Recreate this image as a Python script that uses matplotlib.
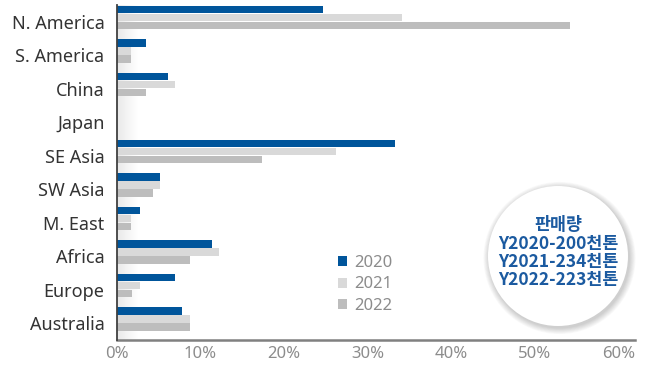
import numpy as np
import matplotlib
matplotlib.use("Agg")
import matplotlib.pyplot as plt
from matplotlib.patches import Patch, Circle

plt.rcParams['font.family'] = ['Noto Sans', 'Noto Sans CJK KR', 'DejaVu Sans']

# Regional sales share (%)
regions = ["N. America", "S. America", "China", "Japan", "SE Asia",
           "SW Asia", "M. East", "Africa", "Europe", "Australia"]
years = ["2020", "2021", "2022"]
share_2020 = [24.6, 3.5, 6.1, 0.0, 33.3, 5.2, 2.7, 11.4, 7.0, 7.8]
share_2021 = [34.1, 1.7, 6.9, 0.0, 26.2, 5.2, 1.7, 12.2, 2.7, 8.7]
share_2022 = [54.2, 1.7, 3.5, 0.0, 17.4, 4.3, 1.7, 8.7, 1.8, 8.7]
x_ticks = [0, 10, 20, 30, 40, 50, 60]
note_lines = ["판매량", "Y2020-200천톤", "Y2021-234천톤", "Y2022-223천톤"]

colors = ["#00559b", "#d9d9d9", "#bdbdbd"]

W, H = 656, 371
fig = plt.figure(figsize=(W / 100, H / 100), dpi=100)
ax = fig.add_axes([117 / W, 1 - 340 / H, (635 - 117) / W, (340 - 5) / H])

pos = np.arange(len(regions))
step = 0.239
bar_h = 0.22
for k, (vals, c) in enumerate(zip([share_2020, share_2021, share_2022], colors)):
    ax.barh(pos + (k - 1) * step, vals, height=bar_h, color=c,
            edgecolor="none", zorder=3)

ax.set_xlim(0, 62)
ax.set_ylim(9.63, -0.37)

# soft shading along the value axis origin
grad = np.linspace(0.86, 1.0, 64).reshape(1, -1)
grad = grad ** 0.6
ax.imshow(np.dstack([grad, grad, grad]), extent=[0, 0.04, 0, 1],
          transform=ax.transAxes, aspect="auto", zorder=1,
          interpolation="bilinear")

ax.set_yticks(pos + 0.13)
ax.set_yticklabels(regions, fontsize=13, color="#333333")
ax.set_xticks(x_ticks)
ax.set_xticklabels([f"{t}%" for t in x_ticks], fontsize=12, color="#8c8c8c")
ax.tick_params(axis="y", length=0, pad=9)
ax.tick_params(axis="x", length=0, pad=4)

for s in ["top", "right"]:
    ax.spines[s].set_visible(False)
ax.spines["left"].set_color("#404040")
ax.spines["left"].set_linewidth(1.3)
ax.spines["bottom"].set_color("#808080")
ax.spines["bottom"].set_linewidth(1.8)
ax.spines["left"].set_zorder(5)

handles = [Patch(facecolor=c, edgecolor="none") for c in colors]
ax.legend(handles, years, loc="upper left",
          bbox_to_anchor=(338 / W, 1 - 255 / H), bbox_transform=fig.transFigure,
          frameon=False, fontsize=12, labelcolor="#8c8c8c",
          handlelength=0.55, handleheight=0.55, handletextpad=0.4,
          labelspacing=0.33, borderpad=0, borderaxespad=0)

# sales volume note in a shaded circle
R = 80
cx, cy = 558, 256
nax = fig.add_axes([(cx - R) / W, 1 - (cy + R) / H, 2 * R / W, 2 * R / H])
nax.set_xlim(-R, R)
nax.set_ylim(-R, R)
nax.axis("off")
for i in range(8):
    r = 70.5 + i * 0.8
    nax.add_patch(Circle((1.5, -2), r, facecolor="#000000", alpha=0.025,
                         edgecolor="none", zorder=1))
nax.add_patch(Circle((0, 0), 70, facecolor="white", edgecolor="none", zorder=2))
ys = [31.5, 12.5, -6, -24.5]
for t, yy in zip(note_lines, ys):
    nax.text(0, yy, t, ha="center", va="center", fontsize=12.5,
             fontweight="bold", color="#1b5aa0", zorder=3,
             family=['Noto Sans CJK KR', 'DejaVu Sans'])

fig.savefig("out.png", dpi=100)
